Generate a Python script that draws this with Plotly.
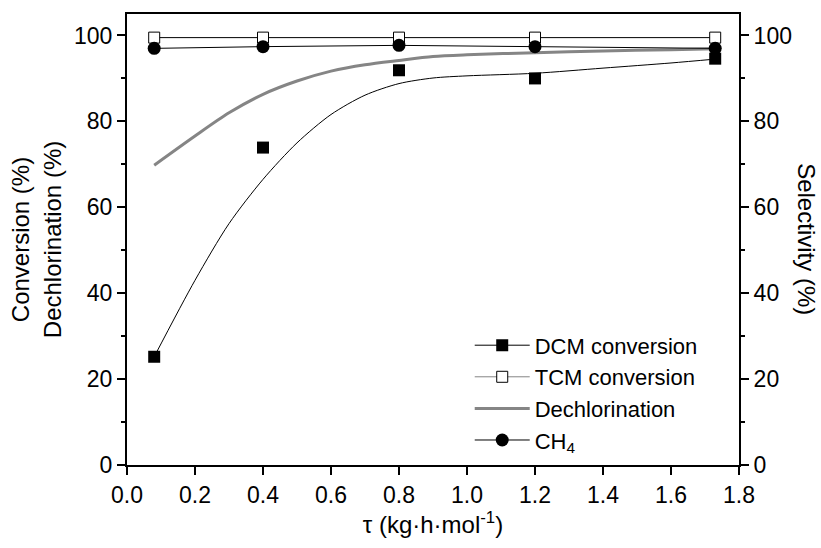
import plotly.graph_objects as go

# Measured data
tau = [0.08, 0.4, 0.8, 1.2, 1.73]
dcm_conv = [25.2, 73.9, 91.9, 90.0, 94.6]
tcm_conv = [99.5, 99.5, 99.5, 99.5, 99.5]
ch4_sel = [97.0, 97.4, 97.7, 97.4, 97.0]

# Fitted curves
dcm_fit_x = [0.08, 0.2, 0.3, 0.4, 0.5, 0.6, 0.7, 0.8, 0.9, 1.0, 1.2, 1.4, 1.6, 1.73]
dcm_fit_y = [25.2, 43.0, 56.2, 66.5, 75.0, 81.6, 86.1, 88.8, 90.1, 90.6, 91.2, 92.4, 93.6, 94.5]
dechl_x = [0.08, 0.2, 0.3, 0.4, 0.5, 0.6, 0.7, 0.8, 0.9, 1.0, 1.2, 1.4, 1.6, 1.73]
dechl_y = [69.8, 76.6, 82.0, 86.3, 89.4, 91.7, 93.2, 94.2, 95.1, 95.5, 96.0, 96.4, 96.7, 96.9]

FONT = "Arial, Liberation Sans, sans-serif"
FS = 23
BLACK = "black"
GRAY = "#858585"

fig = go.Figure()

# Dechlorination fit (gray)
fig.add_trace(go.Scatter(x=dechl_x, y=dechl_y, mode="lines", line=dict(color=GRAY, width=3, shape="spline", smoothing=0.8),
                         showlegend=False, hoverinfo="skip"))
# DCM fit
fig.add_trace(go.Scatter(x=dcm_fit_x, y=dcm_fit_y, mode="lines", line=dict(color=BLACK, width=1, shape="spline", smoothing=0.8),
                         showlegend=False, hoverinfo="skip"))
# TCM conversion
fig.add_trace(go.Scatter(x=tau, y=tcm_conv, mode="lines+markers", name="TCM conversion",
                         line=dict(color=BLACK, width=1),
                         marker=dict(symbol="square", size=11, color="white", line=dict(color=BLACK, width=1)),
                         showlegend=False))
# CH4 selectivity on secondary axis
fig.add_trace(go.Scatter(x=tau, y=ch4_sel, mode="lines+markers", name="CH<sub>4</sub>", yaxis="y2",
                         line=dict(color=BLACK, width=1),
                         marker=dict(symbol="circle", size=13, color=BLACK),
                         showlegend=False))
# DCM conversion markers
fig.add_trace(go.Scatter(x=tau, y=dcm_conv, mode="markers", name="DCM conversion",
                         marker=dict(symbol="square", size=12, color=BLACK),
                         showlegend=False))

# Legend entries
fig.add_trace(go.Scatter(x=[None], y=[None], mode="lines+markers", name="DCM conversion",
                         line=dict(color=BLACK, width=1), marker=dict(symbol="square", size=12, color=BLACK)))
fig.add_trace(go.Scatter(x=[None], y=[None], mode="lines+markers", name="TCM conversion",
                         line=dict(color=GRAY, width=1),
                         marker=dict(symbol="square", size=11, color="white", line=dict(color=BLACK, width=1))))
fig.add_trace(go.Scatter(x=[None], y=[None], mode="lines", name="Dechlorination",
                         line=dict(color=GRAY, width=3)))
fig.add_trace(go.Scatter(x=[None], y=[None], mode="lines+markers", name="CH<sub>4</sub>",
                         line=dict(color=BLACK, width=1), marker=dict(symbol="circle", size=13, color=BLACK)))

axis_common = dict(showgrid=False, zeroline=False, showline=True, linecolor=BLACK, linewidth=2,
                   ticks="outside", tickcolor=BLACK, tickwidth=2, ticklen=8,
                   tickfont=dict(family=FONT, size=FS, color=BLACK))

fig.update_layout(
    width=821, height=548,
    margin=dict(l=127, r=82, t=14, b=83),
    paper_bgcolor="white", plot_bgcolor="white",
    font=dict(family=FONT, size=FS, color=BLACK),
    xaxis=dict(**axis_common, range=[0, 1.8], dtick=0.2, tick0=0, tickformat=".1f", mirror=True,
               title=dict(text="τ (kg·h·mol<sup>-1</sup>)", font=dict(family=FONT, size=FS + 1), standoff=10)),
    yaxis=dict(**axis_common, range=[0, 105], dtick=20, tick0=0,
               minor=dict(ticks="outside", dtick=10, ticklen=4, tickwidth=2, tickcolor=BLACK),
               title=dict(text="Conversion (%)<br>Dechlorination (%)", font=dict(family=FONT, size=FS + 1), standoff=6)),
    yaxis2=dict(**axis_common, range=[0, 105], dtick=20, tick0=0, overlaying="y", side="right",
                minor=dict(ticks="outside", dtick=10, ticklen=4, tickwidth=2, tickcolor=BLACK)),
    legend=dict(x=0.56, y=0.008, xanchor="left", yanchor="bottom", bgcolor="rgba(0,0,0,0)",
                font=dict(family=FONT, size=22), itemwidth=55, tracegroupgap=0),
    annotations=[dict(text="Selectivity (%)", textangle=90, xref="paper", yref="paper", x=1.11, y=0.5,
                      xanchor="center", yanchor="middle", showarrow=False,
                      font=dict(family=FONT, size=FS + 1, color=BLACK))],
)

fig.write_html("out.html")
